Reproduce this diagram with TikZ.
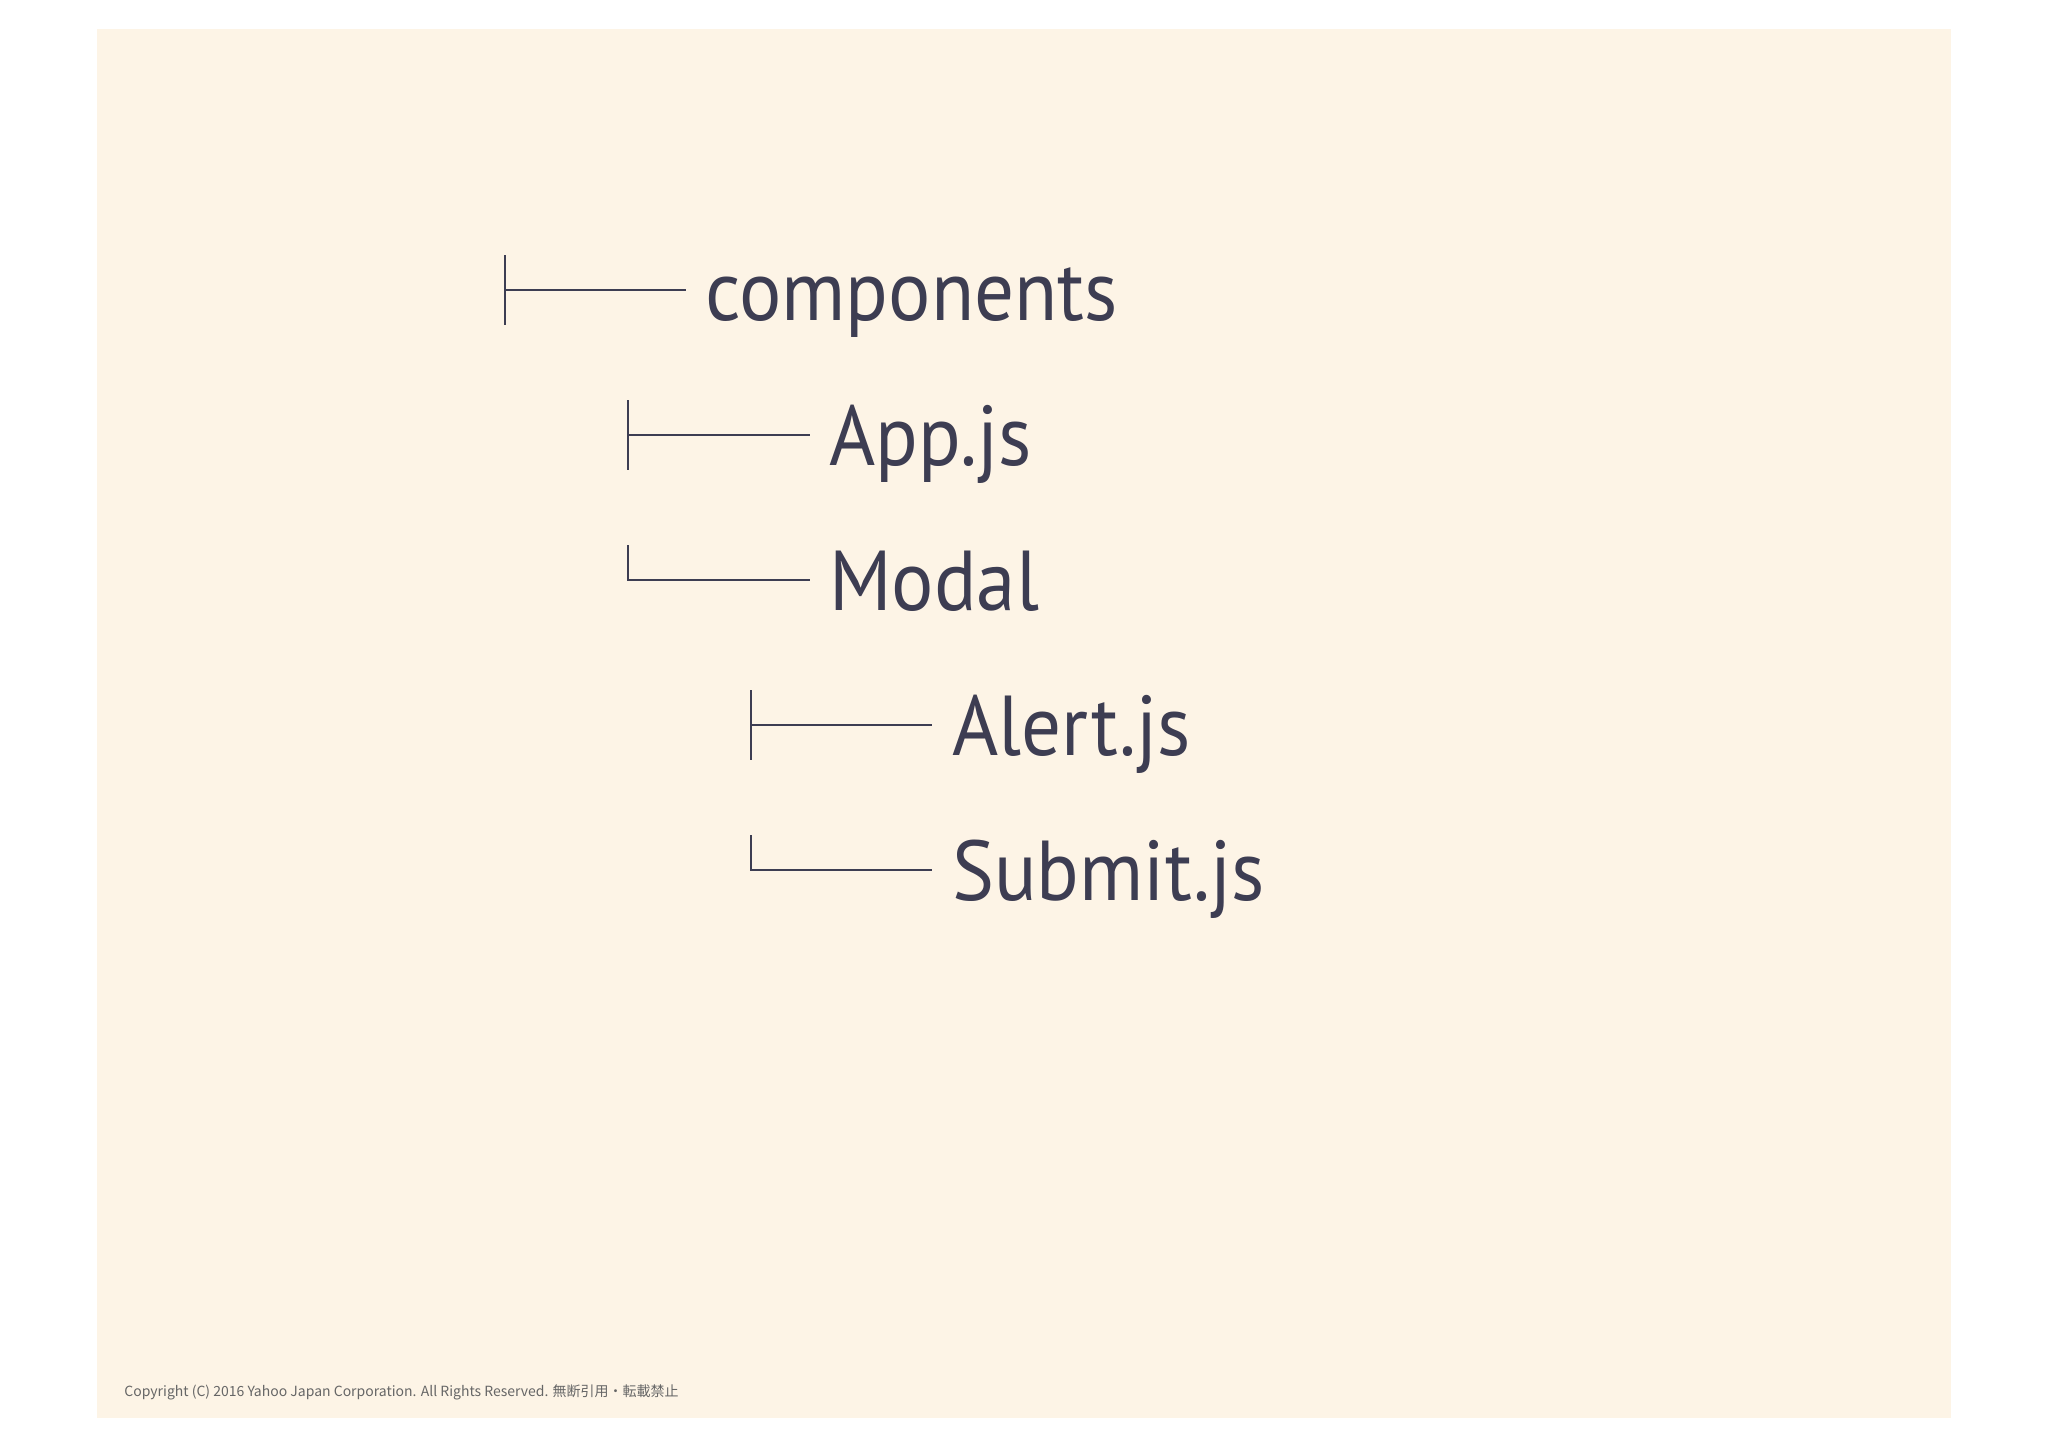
\documentclass[tikz,border=0pt]{standalone}
\usepackage{fontspec}
\setmainfont{PT Sans}
\newfontfamily\treefont[FakeStretch=0.93]{PT Sans}
\newfontfamily\cjk{Noto Sans CJK JP}
\definecolor{bg}{HTML}{FDF4E6}
\definecolor{ink}{HTML}{3D3D52}
\begin{document}
\begin{tikzpicture}[x=0.5pt,y=-0.5pt,
  lbl/.style={anchor=base west,inner sep=0pt,text=ink,font=\treefont\fontsize{42.5}{50}\selectfont},
  tree/.style={draw=ink,line width=1.4pt}]
\useasboundingbox (0,0) rectangle (2048,1447);
\fill[white] (0,0) rectangle (2048,1447);
\fill[bg] (97,29) rectangle (1951,1418);
% level 0
\coordinate (t0a) at (505,255); \coordinate (t0b) at (505,325); \coordinate (h0) at (505,290);
\node[lbl] (comp) at (705,320) {components};
\draw[tree] (t0a) -- (t0b); \draw[tree] (h0) -- (686,290) coordinate (e0);
% level 1
\coordinate (t1a) at (628,400); \coordinate (t1b) at (628,470); \coordinate (h1) at (628,435);
\node[lbl] (app) at (829,465) {App.js};
\draw[tree] (t1a) -- (t1b); \draw[tree] (h1) -- (810,435);
\coordinate (m1a) at (628,545); \coordinate (m1b) at (628,580);
\node[lbl] (modal) at (829,610) {Modal};
\draw[tree] (m1a) -- (m1b) -- (810,580);
% level 2
\coordinate (t2a) at (751,690); \coordinate (t2b) at (751,760); \coordinate (h2) at (751,725);
\node[lbl] (alert) at (952,755) {Alert.js};
\draw[tree] (t2a) -- (t2b); \draw[tree] (h2) -- (932,725);
\coordinate (s2a) at (751,835); \coordinate (s2b) at (751,870);
\node[lbl] (submit) at (952,900) {Submit.js};
\draw[tree] (s2a) -- (s2b) -- (932,870);
\node[anchor=west,inner sep=0pt,text=black!60,font=\cjk\fontsize{7}{8}\selectfont] (copy) at (124,1392) {Copyright (C) 2016 Yahoo Japan Corporation. All Rights Reserved. 無断引用・転載禁止};
\end{tikzpicture}
\end{document}
